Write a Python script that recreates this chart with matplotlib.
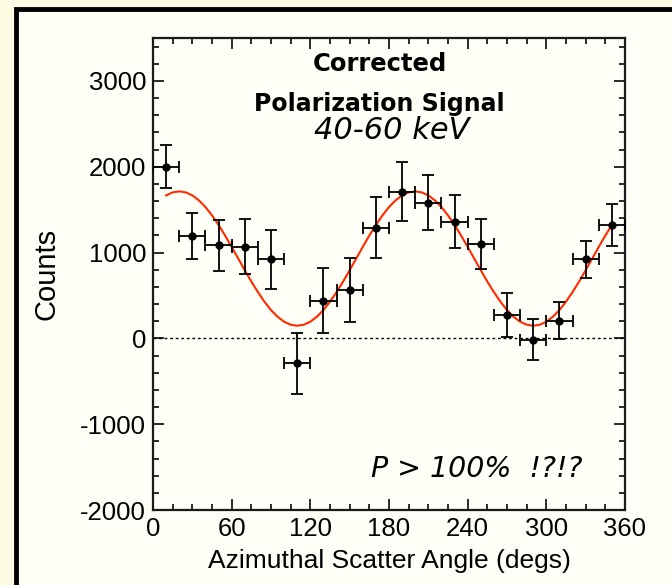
import matplotlib.pyplot as plt
from matplotlib.patches import Rectangle
from matplotlib.ticker import MultipleLocator

plt.rcParams['axes.unicode_minus'] = False

# binned data (degrees, counts)
angle = [10, 30, 50, 70, 90, 110, 130, 150, 170, 190, 210, 230, 250, 270, 290, 310, 330, 350]
counts = [2000, 1190, 1085, 1070, 920, -290, 440, 560, 1290, 1710, 1580, 1360, 1100, 275, -15, 205, 920, 1320]
count_err = [250, 270, 300, 320, 340, 355, 375, 375, 355, 340, 320, 305, 290, 255, 235, 215, 220, 245]
angle_err = [10] * 18

# fitted modulation curve, read every 5 degrees
fit_angle = list(range(10, 355, 5))
fit_counts = [1666, 1701, 1713, 1701, 1666, 1608, 1530, 1433, 1322, 1198, 1066, 930, 794, 662,
              539, 427, 330, 252, 194, 159, 147, 159, 194, 252, 330, 427, 539, 662, 794, 930,
              1066, 1198, 1322, 1433, 1530, 1608, 1666, 1701, 1713, 1701, 1666, 1608, 1530, 1433,
              1322, 1198, 1066, 930, 794, 662, 539, 427, 330, 252, 194, 159, 147, 159, 194, 252,
              330, 427, 539, 662, 794, 930, 1066, 1198, 1322]

fig = plt.figure(figsize=(6.72, 5.85), dpi=100)
fig.patch.set_facecolor("#fdfbe1")
panel = Rectangle((15.5/672, -0.05), 1.1, 1 - 9/585 + 0.05, transform=fig.transFigure,
                  facecolor="#fffff7", edgecolor="black", linewidth=3.5, zorder=-10)
fig.patches.append(panel)

ax = fig.add_axes([153/672, 75/585, 472/672, 472/585])
ax.set_facecolor("#fffff7")

ax.axhline(0, color="black", linestyle=(0, (2, 2)), linewidth=1)
ax.plot(fit_angle, fit_counts, color="#ff2a00", linewidth=1.5, zorder=2)
ax.errorbar(angle, counts, yerr=count_err, xerr=angle_err, fmt="o", color="black",
            markersize=5, elinewidth=1.3, capsize=4, capthick=1.3, zorder=3)

ax.set_xlim(0, 360)
ax.set_ylim(-2000, 3500)
ax.xaxis.set_major_locator(MultipleLocator(60))
ax.xaxis.set_minor_locator(MultipleLocator(15))
ax.yaxis.set_major_locator(MultipleLocator(1000))
ax.yaxis.set_minor_locator(MultipleLocator(200))
ax.set_yticks([-2000, -1000, 0, 1000, 2000, 3000])

for s in ax.spines.values():
    s.set_linewidth(1.6)
    s.set_color("#1a1a1a")
ax.tick_params(which="both", direction="in", top=True, right=True, width=1.3, color="#1a1a1a")
ax.tick_params(which="major", length=8, labelsize=18.5, pad=5)
ax.tick_params(which="minor", length=4.5)
for lab in ax.get_xticklabels() + ax.get_yticklabels():
    lab.set_family("Liberation Sans")

ax.set_xlabel("Azimuthal Scatter Angle (degs)", fontsize=19, family="Liberation Sans")
ax.set_ylabel("Counts", fontsize=21, family="Liberation Sans")
ax.xaxis.set_label_coords(0.5, -0.083)
ax.yaxis.set_label_coords(-0.197, 0.5)

ax.text(0.48, 0.944, "Corrected", transform=ax.transAxes, ha="center", va="center",
        fontsize=17.5, fontweight="bold")
ax.text(0.48, 0.861, "Polarization Signal", transform=ax.transAxes, ha="center", va="center",
        fontsize=17, fontweight="bold")
ax.text(0.505, 0.803, "40-60 keV", transform=ax.transAxes, ha="center", va="center",
        fontsize=22, style="italic")
ax.text(0.686, 0.087, "P > 100%  !?!?", transform=ax.transAxes, ha="center", va="center",
        fontsize=20.5, style="italic")

fig.savefig("out.png", dpi=100, facecolor=fig.get_facecolor())
